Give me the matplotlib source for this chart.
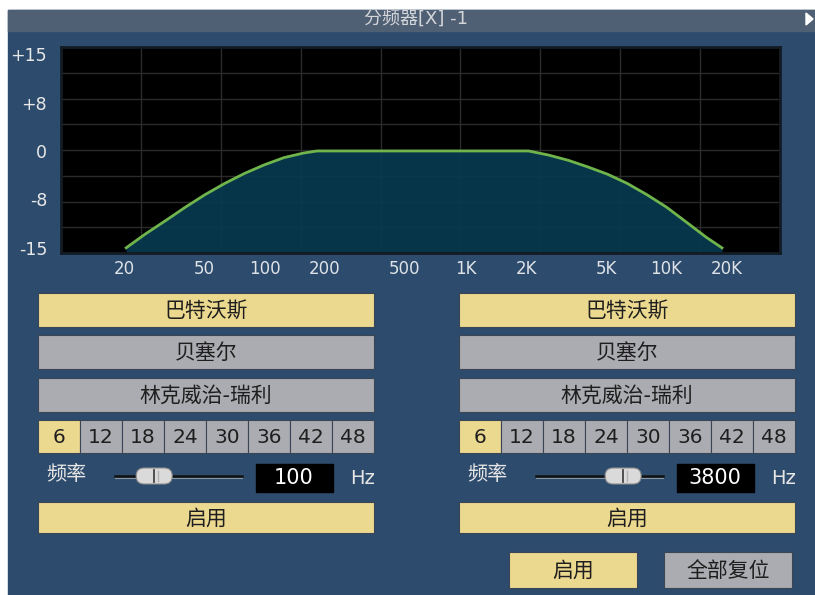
import numpy as np
import matplotlib.pyplot as plt
from matplotlib.patches import Rectangle, FancyBboxPatch, Polygon

plt.rcParams['font.family'] = ['DejaVu Sans', 'Noto Sans CJK SC']

# response curve (Hz / dB)
freq_pts = [20.5, 25.6, 32.2, 40.3, 50.5, 63.4, 79.4, 99.6, 125, 157, 183,
            2060, 2580, 3240, 4060, 5090, 6380, 8000, 10030, 12580, 15760, 18880]
gain_pts = [-15, -12.84, -10.79, -8.73, -6.78, -5.03, -3.49, -2.16, -1.03, -0.31, 0,
            0, -0.62, -1.44, -2.47, -3.6, -5.03, -6.78, -8.73, -11.04, -13.36, -15]

x_ticks = [20, 50, 100, 200, 500, 1000, 2000, 5000, 10000, 20000]
x_labels = ['20', '50', '100', '200', '500', '1K', '2K', '5K', '10K', '20K']
y_ticks = [15, 7.5, 0, -7.5, -15]
y_labels = ['+15', '+8', '0', '-8', '-15']

title = '分频器[X] -1'
filter_types = ['巴特沃斯', '贝塞尔', '林克威治-瑞利']
slopes = ['6', '12', '18', '24', '30', '36', '42', '48']
cutoff = [100, 3800]
sel_type = [0, 0]
sel_slope = [0, 0]

# colours
PANEL = '#2d4b6c'
BAR = '#4f5f74'
YELLOW = '#ecd990'
GRAY = '#abacb1'
TXT = '#1e1e1e'
LIGHT = '#e6e6e6'

fig = plt.figure(figsize=(8.15, 5.95), dpi=100, facecolor='white')

# background / widgets in pixel coords
bg = fig.add_axes([0, 0, 1, 1])
bg.set_xlim(0, 815)
bg.set_ylim(595, 0)
bg.axis('off')
bg.add_patch(Rectangle((8, 10), 807, 585, color=PANEL, zorder=0))
bg.add_patch(Rectangle((8, 10), 807, 21, color=BAR, zorder=1))
bg.text(416, 20, title, ha='center', va='center', fontsize=13, color='#d4d6da')
bg.add_patch(Polygon([[806, 13], [813, 19], [806, 25]], closed=True, color='white', zorder=2))


def button(x, y, w, h, label, on, size=15):
    bg.add_patch(Rectangle((x, y), w, h, facecolor=YELLOW if on else GRAY,
                           edgecolor='#3a4656', lw=0.8, zorder=2))
    bg.text(x + w / 2, y + h / 2 + 1, label, ha='center', va='center',
            fontsize=size, color=TXT, zorder=3)


cols = [38, 459]
col_w = 336
for c, x0 in enumerate(cols):
    for i, name in enumerate(filter_types):
        button(x0, [293, 335, 378][i], col_w, 34, name, i == sel_type[c])
    cw = col_w / len(slopes)
    for i, s in enumerate(slopes):
        button(x0 + i * cw, 420, cw, 33, s, i == sel_slope[c], size=14.5)

    # frequency row
    bg.text(x0 + 8, 474, '频率', ha='left', va='center', fontsize=14.5, color=LIGHT)
    t0, t1 = x0 + 77, x0 + 204
    bg.plot([t0, t1], [476, 476], color='#111111', lw=1.8, zorder=2)
    bg.plot([t0, t1], [478, 478], color='#8a96a6', lw=0.8, zorder=2)
    frac = (np.log10(cutoff[c]) - np.log10(20)) / 3
    kx = t0 + 18 + frac * (t1 - t0 - 36)
    bg.add_patch(FancyBboxPatch((kx - 18, 468), 36, 16, boxstyle='round,pad=0,rounding_size=8',
                                facecolor='#dadada', edgecolor='#8e8e8e', lw=0.8, zorder=3))
    bg.plot([kx, kx], [470, 482], color='#444444', lw=1.3, zorder=4)
    bg.plot([kx + 4, kx + 4], [471, 481], color='#b0b0b0', lw=1, zorder=4)
    bg.add_patch(Rectangle((x0 + 218, 464), 77, 28, color='black', zorder=2))
    bg.text(x0 + 256, 478, str(cutoff[c]), ha='center', va='center', fontsize=15, color='white', zorder=3)
    bg.text(x0 + 325, 479, 'Hz', ha='center', va='center', fontsize=14, color=LIGHT)

    button(x0, 502, col_w, 31, '启用', True)

button(509, 552, 128, 36, '启用', True)
button(664, 552, 128, 36, '全部复位', False)

# response plot
ax = fig.add_axes([61 / 815, 1 - 253 / 595, 719 / 815, 206 / 595])
ax.set_facecolor('black')
ax.set_xscale('log')
ax.set_xlim(9.72, 36700)
ax.set_ylim(-15.8, 16.1)
for i in range(1, 9):
    ax.plot([i / 9, i / 9], [0, 1], transform=ax.transAxes, color='#2b2b2b', lw=1, zorder=1)
for j in range(1, 8):
    ax.plot([0, 1], [j / 8, j / 8], transform=ax.transAxes, color='#2b2b2b', lw=1, zorder=1)
ax.fill_between(freq_pts, gain_pts, -15.8, color='#073a50', alpha=0.92, lw=0, zorder=2)
ax.plot(freq_pts, gain_pts, color='#6fb54c', lw=2, zorder=3)

ax.set_xticks(x_ticks)
ax.set_xticklabels(x_labels)
ax.minorticks_off()
ax.set_yticks(y_ticks)
ax.set_yticklabels(y_labels)
ax.tick_params(axis='x', length=0, pad=5, labelsize=12, labelcolor='#dfe3e8')
ax.tick_params(axis='y', length=0, pad=10, labelsize=12.5, labelcolor='#e8e8e8')
for sp in ax.spines.values():
    sp.set_color('#131b24')
    sp.set_linewidth(2)

fig.savefig('out.png', dpi=100, facecolor='white')
